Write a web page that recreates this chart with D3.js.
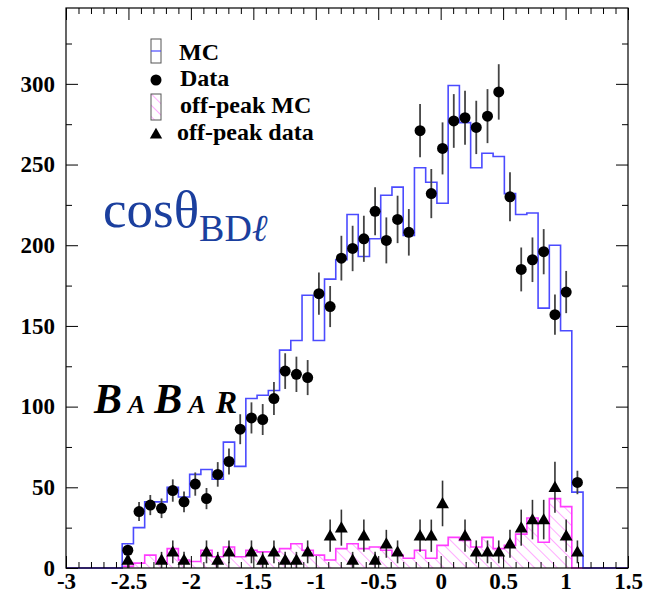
<!DOCTYPE html>
<html>
<head>
<meta charset="utf-8">
<script src="https://cdn.jsdelivr.net/npm/d3@7/dist/d3.min.js"></script>
<style>
  body { margin: 0; background: #fff; }
  svg { display: block; }
  .tick text { font-family: "Liberation Serif", "Times New Roman", serif; font-weight: bold; font-size: 23px; fill: #000; }
</style>
</head>
<body>
<svg id="chart" width="649" height="597"></svg>
<script>
// Histogram binning: 50 bins of width 0.09 on [-3, 1.5]; entries start at bin 5
const xMin = -3, xMax = 1.5, nBins = 50, firstBin = 5;

// Signal MC (blue outline)
const mcCounts = [15, 25, 41, 41, 50, 44, 58, 61, 55, 78, 63, 105, 107, 110, 135, 141, 169, 141, 179, 191,
  219, 193, 204, 231, 236, 206, 248, 239, 226, 299, 276, 248, 257, 255, 232, 219, 220, 161, 200, 147, 47];
// On-peak data (circles)
const dataCounts = [11, 35, 39, 37, 48, 41, 52, 43, 58, 66, 86, 93, 92, 105, 122, 120, 118, 170, 162, 192,
  198, 204, 221, 203, 216, 208, 271, 232, 260, 277, 279, 273, 280, 295, 230, 185, 191, 196, 157, 171, 53];
// Off-peak MC (hatched magenta)
const offPeakMC = [1, 3, 8, 3, 12, 5, 4, 11, 7, 13, 7, 11, 10, 10, 12, 15, 11, 8, 5, 12,
  15, 12, 13, 11, 8, 6, 11, 6, 14, 19, 17, 13, 19, 12, 14, 21, 31, 16, 43, 38, 0];
// Off-peak data, luminosity-scaled (triangles); empty bins are not drawn
const offPeakData = [5, 0, 0, 5, 10, 5, 0, 10, 5, 10, 0, 10, 5, 10, 5, 5, 10, 0, 20, 25,
  5, 20, 5, 15, 10, 0, 20, 20, 40, 0, 20, 10, 10, 10, 15, 25, 30, 30, 50, 20, 10];
const offPeakScale = 5;

const xTicks = [-3, -2.5, -2, -1.5, -1, -0.5, 0, 0.5, 1, 1.5];
const yTicks = [0, 50, 100, 150, 200, 250, 300];
const yMax = 347;
const legendLabels = ["MC", "Data", "off-peak MC", "off-peak data"];

const binWidth = (xMax - xMin) / nBins;
const frameL = 66, frameR = 628, frameT = 8, frameB = 568;

const svg = d3.select("#chart");
const x = d3.scaleLinear().domain([xMin, xMax]).range([frameL, frameR]);
const y = d3.scaleLinear().domain([0, yMax]).range([frameB, frameT]);

const BLUE = "#4b4bff", MAGENTA = "#ff3cff", HATCH = "#ff66ff";
const plainNum = d => String(d);   // ASCII hyphen for negative labels

// Hatch pattern for the off-peak MC
const defs = svg.append("defs");
const pat = defs.append("pattern").attr("id", "hatch").attr("patternUnits", "userSpaceOnUse")
  .attr("width", 8).attr("height", 8).attr("patternTransform", "rotate(-45)");
pat.append("line").attr("x1", 0).attr("y1", 0).attr("x2", 0).attr("y2", 8)
  .attr("stroke", HATCH).attr("stroke-width", 1.1);

// Expand a partial bin list into the full 50-bin histogram
function fullBins(vals) {
  return d3.range(nBins).map(i => {
    const k = i - firstBin;
    return { lo: xMin + i * binWidth, hi: xMin + (i + 1) * binWidth, v: (k >= 0 && k < vals.length) ? vals[k] : 0 };
  });
}
function stepPoints(vals) {
  const pts = [[xMin, 0]];
  fullBins(vals).forEach(b => { pts.push([b.lo, b.v]); pts.push([b.hi, b.v]); });
  pts.push([xMax, 0]);
  return pts;
}
const line = d3.line().x(d => x(d[0])).y(d => y(d[1]));
const centers = d3.range(dataCounts.length).map(k => xMin + (firstBin + k + 0.5) * binWidth);

// Off-peak MC: hatched fill then outline
svg.append("path").attr("d", line(stepPoints(offPeakMC)) + "Z").attr("fill", "url(#hatch)").attr("stroke", "none");
svg.append("path").attr("d", line(stepPoints(offPeakMC))).attr("fill", "none")
  .attr("stroke", MAGENTA).attr("stroke-width", 1.6);

// MC outline
svg.append("path").attr("d", line(stepPoints(mcCounts))).attr("fill", "none")
  .attr("stroke", BLUE).attr("stroke-width", 1.6);

// Off-peak data: error bars and triangles
const opd = offPeakData.map((v, k) => ({ x: centers[k], v, e: Math.sqrt(v * offPeakScale) })).filter(d => d.v > 0);
svg.append("g").selectAll("line").data(opd).join("line")
  .attr("x1", d => x(d.x)).attr("x2", d => x(d.x))
  .attr("y1", d => y(d.v - d.e)).attr("y2", d => y(d.v + d.e))
  .attr("stroke", "#333").attr("stroke-width", 1.6);
const tri = d3.symbol().type(d3.symbolTriangle).size(72);
svg.append("g").selectAll("path").data(opd).join("path")
  .attr("d", tri).attr("transform", d => `translate(${x(d.x)},${y(d.v) + 1})`).attr("fill", "#000");

// Data: error bars and circles
const pts = dataCounts.map((v, k) => ({ x: centers[k], v, e: Math.sqrt(v) }));
svg.append("g").selectAll("line").data(pts).join("line")
  .attr("x1", d => x(d.x)).attr("x2", d => x(d.x))
  .attr("y1", d => y(d.v - d.e)).attr("y2", d => y(d.v + d.e))
  .attr("stroke", "#444").attr("stroke-width", 1.8);
svg.append("g").selectAll("circle").data(pts).join("circle")
  .attr("cx", d => x(d.x)).attr("cy", d => y(d.v)).attr("r", 5.5).attr("fill", "#000");

// Axes: ticks point inward on all four sides
const xMinor = d3.range(-30, 16).map(i => i / 10).filter(v => Math.abs(v * 2 - Math.round(v * 2)) > 1e-6);
const yMinor = d3.range(25, yMax, 50);
function styleAxis(g) { g.select(".domain").remove(); g.selectAll(".tick line").attr("stroke", "#000").attr("stroke-width", 1); }

svg.append("g").attr("transform", `translate(0,${frameB})`)
  .call(d3.axisBottom(x).tickValues(xTicks).tickSize(-12).tickPadding(5).tickFormat(plainNum))
  .call(styleAxis);
svg.append("g").attr("transform", `translate(0,${frameB})`)
  .call(d3.axisBottom(x).tickValues(xMinor).tickSize(-6).tickFormat("")).call(styleAxis);
svg.append("g").attr("transform", `translate(0,${frameT})`)
  .call(d3.axisTop(x).tickValues(xTicks).tickSize(-12).tickFormat("")).call(styleAxis);
svg.append("g").attr("transform", `translate(0,${frameT})`)
  .call(d3.axisTop(x).tickValues(xMinor).tickSize(-6).tickFormat("")).call(styleAxis);

svg.append("g").attr("transform", `translate(${frameL},0)`)
  .call(d3.axisLeft(y).tickValues(yTicks).tickSize(-12).tickPadding(11).tickFormat(plainNum))
  .call(styleAxis);
svg.append("g").attr("transform", `translate(${frameL},0)`)
  .call(d3.axisLeft(y).tickValues(yMinor).tickSize(-6).tickFormat("")).call(styleAxis);
svg.append("g").attr("transform", `translate(${frameR},0)`)
  .call(d3.axisRight(y).tickValues(yTicks).tickSize(-12).tickFormat("")).call(styleAxis);
svg.append("g").attr("transform", `translate(${frameR},0)`)
  .call(d3.axisRight(y).tickValues(yMinor).tickSize(-6).tickFormat("")).call(styleAxis);

// Frame
svg.append("rect").attr("x", frameL).attr("y", frameT).attr("width", frameR - frameL).attr("height", frameB - frameT)
  .attr("fill", "none").attr("stroke", "#000").attr("stroke-width", 1.2);

// Legend
const serif = "'Liberation Serif', 'Times New Roman', serif";
const lg = svg.append("g").attr("font-family", serif).attr("font-weight", "bold").attr("font-size", 24);
lg.append("rect").attr("x", 151).attr("y", 39).attr("width", 10).attr("height", 24)
  .attr("fill", "#fff").attr("stroke", "#555").attr("stroke-width", 1);
lg.append("line").attr("x1", 151).attr("x2", 161).attr("y1", 51).attr("y2", 51).attr("stroke", BLUE).attr("stroke-width", 1.2);
lg.append("circle").attr("cx", 156).attr("cy", 80).attr("r", 5.5).attr("fill", "#000");
lg.append("rect").attr("x", 151).attr("y", 94).attr("width", 10).attr("height", 26)
  .attr("fill", "url(#hatch)").attr("stroke", "#555").attr("stroke-width", 1);
lg.append("path").attr("d", d3.symbol().type(d3.symbolTriangle).size(66)).attr("transform", "translate(156,135)").attr("fill", "#000");
const legendY = [60, 86, 113, 140];
const legendX = [179, 180, 180, 177];
lg.selectAll("text").data(legendLabels).join("text")
  .attr("x", (d, i) => legendX[i]).attr("y", (d, i) => legendY[i]).text(d => d);

// Variable name
const vt = svg.append("text").attr("x", 103).attr("y", 227).attr("font-family", serif)
  .attr("font-size", 53).attr("fill", "#1b3f9e");
vt.append("tspan").text("cosθ");
vt.append("tspan").attr("font-size", 38).attr("dy", 14).text("BD");
vt.append("tspan").attr("font-size", 38).attr("font-style", "italic").text("ℓ");

// Experiment logo
const logo = svg.append("text").attr("x", 94).attr("y", 413).attr("font-family", serif)
  .attr("font-weight", "bold").attr("font-style", "italic").attr("fill", "#000");
[["B", 42, 0], ["A", 26, 6], ["B", 42, 9], ["A", 26, 6], ["R", 32, 10]].forEach(([c, s, dx]) => {
  logo.append("tspan").attr("font-size", s).attr("dx", dx).text(c);
});

// Axis title, mostly below the visible area
svg.append("text").attr("x", 528).attr("y", 620).attr("font-family", serif).attr("font-size", 32)
  .attr("fill", "#777").text("cosθ");
</script>
</body>
</html>
